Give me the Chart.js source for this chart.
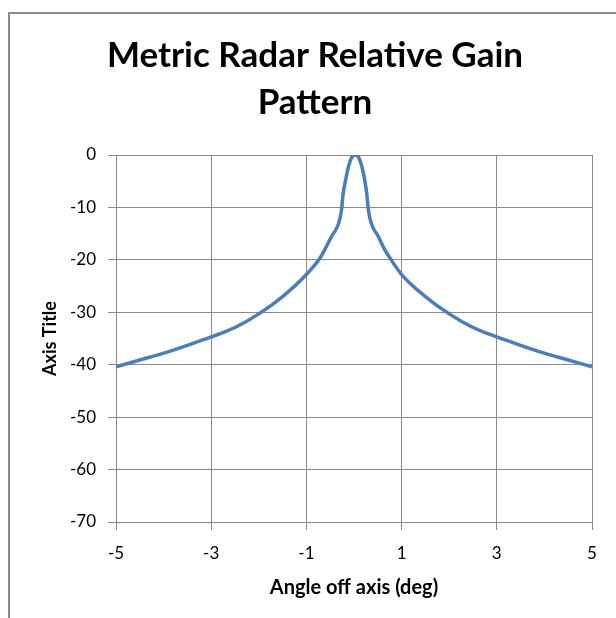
<!DOCTYPE html>
<html>
<head>
<meta charset="utf-8">
<script src="https://cdn.jsdelivr.net/npm/chart.js@4/dist/chart.umd.min.js"></script>
<style>
  html, body { margin: 0; padding: 0; background: #ffffff; overflow: hidden; }
  #wrap { position: relative; width: 616px; height: 618px; }
  #frame { position: absolute; left: 8px; top: 12px; width: 700px; height: 700px;
           border-left: 2px solid #8a8a8a; border-top: 2px solid #8a8a8a; box-sizing: border-box; }
  canvas { position: absolute; left: 0; top: 0; }
</style>
</head>
<body>
<div id="wrap">
  <div id="frame"></div>
  <canvas id="c" width="616" height="618"></canvas>
</div>
<script>
// ---- data ----
const angles = [-5, -4.5, -4, -3.5, -3, -2.5, -2, -1.5, -1, -0.71, -0.6, -0.45, -0.39, -0.33, -0.29, -0.26, -0.23, -0.17, -0.11, -0.05, 0.03,
                0.1, 0.16, 0.22, 0.27, 0.3, 0.33, 0.37, 0.43, 0.49, 0.63, 0.76, 1, 1.5, 2, 2.5, 3, 3.5, 4, 4.5, 5];
const gains = [-40.4, -39.1, -37.8, -36.3, -34.7, -32.9, -30.3, -27.0, -22.8, -19.6, -17.8, -15.2, -14.4, -13.2, -11.9, -10.3, -7.5, -4.5, -2.0, -0.5, 0,
               -0.5, -2.0, -4.5, -7.5, -10.3, -11.9, -13.2, -14.4, -15.2, -17.8, -19.7, -22.8, -27.0, -30.3, -32.9, -34.7, -36.3, -37.8, -39.1, -40.4];
const xTicks = [-5, -3, -1, 1, 3, 5];
const yTicks = [-70, -60, -50, -40, -30, -20, -10, 0];
const titleLines = ["Metric Radar Relative Gain", "Pattern"];
const xTitle = "Angle off axis (deg)";
const yTitle = "Axis Title";

const points = angles.map((a, i) => ({ x: a, y: gains[i] }));
const gridColor = '#8a8a8a';
const fontFamily = 'Lato, "Open Sans", sans-serif';

new Chart(document.getElementById('c'), {
  type: 'scatter',
  data: {
    datasets: [{
      data: points,
      showLine: true,
      borderColor: '#4a7ebb',
      borderWidth: 3.5,
      pointRadius: 0,
      pointHoverRadius: 0,
      cubicInterpolationMode: 'monotone',
      fill: false
    }]
  },
  options: {
    responsive: false,
    animation: false,
    layout: { padding: { left: 38, right: 24, top: 0, bottom: 0 } },
    plugins: {
      legend: { display: false },
      tooltip: { enabled: false },
      title: {
        display: true,
        text: titleLines,
        color: '#000000',
        font: { family: fontFamily, size: 35, weight: 'bold', lineHeight: 47 / 35 },
        padding: { top: 32, bottom: 29 }
      }
    },
    scales: {
      x: {
        type: 'linear',
        min: -5, max: 5,
        afterBuildTicks: s => { s.ticks = xTicks.map(v => ({ value: v })); },
        afterFit: s => { s.height = 96; },
        ticks: { color: '#000000', font: { family: fontFamily, size: 17 }, padding: 13, maxRotation: 0 },
        grid: { color: gridColor, lineWidth: 1, drawTicks: true, tickLength: 8 },
        border: { color: gridColor, width: 1 },
        title: { display: true, text: xTitle, color: '#000000',
                 font: { family: fontFamily, size: 20, weight: 'bold' }, padding: { top: 0, bottom: 18 } }
      },
      y: {
        type: 'linear',
        min: -70, max: 0,
        afterBuildTicks: s => { s.ticks = yTicks.map(v => ({ value: v })); },
        afterFit: s => { s.width = 78; },
        ticks: { color: '#000000', font: { family: fontFamily, size: 17 }, padding: 12 },
        grid: { color: gridColor, lineWidth: 1, drawTicks: true, tickLength: 8 },
        border: { color: gridColor, width: 1 },
        title: { display: true, text: yTitle, color: '#000000',
                 font: { family: fontFamily, size: 18, weight: 'bold' }, padding: { top: 1, bottom: 0 } }
      }
    }
  }
});
</script>
</body>
</html>
